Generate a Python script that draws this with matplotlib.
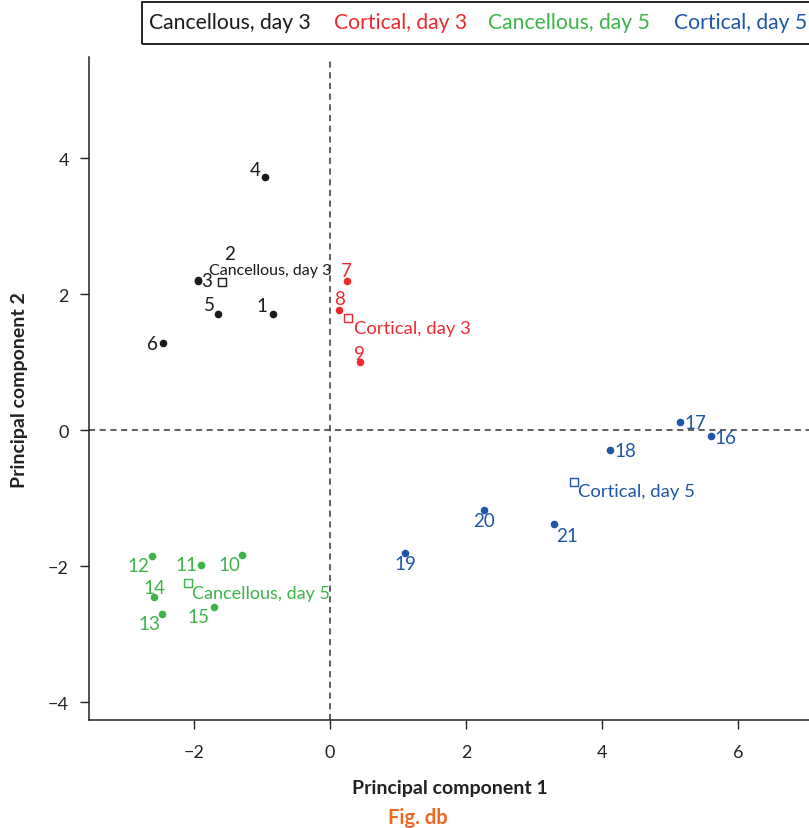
import matplotlib.pyplot as plt
from matplotlib.patches import Rectangle

plt.rcParams['font.family'] = ['Lato', 'DejaVu Sans']

# PCA scores per sample
groups = ["Cancellous, day 3", "Cortical, day 3", "Cancellous, day 5", "Cortical, day 5"]
colors = ["#1a1a1a", "#ee2a2e", "#3cb44a", "#1f56a8"]

ids_c3 = [1, 2, 3, 4, 5, 6]
pc1_c3 = [-0.84, -1.94, -1.94, -0.96, -1.65, -2.45]
pc2_c3 = [1.71, 2.21, 2.20, 3.72, 1.71, 1.28]

ids_k3 = [7, 8, 9]
pc1_k3 = [0.25, 0.13, 0.44]
pc2_k3 = [2.19, 1.77, 1.00]

ids_c5 = [10, 11, 12, 13, 14, 15]
pc1_c5 = [-1.29, -1.90, -2.61, -2.46, -2.58, -1.71]
pc2_c5 = [-1.83, -1.98, -1.85, -2.70, -2.45, -2.60]

ids_k5 = [16, 17, 18, 19, 20, 21]
pc1_k5 = [5.60, 5.15, 4.11, 1.10, 2.27, 3.29]
pc2_k5 = [-0.09, 0.12, -0.29, -1.80, -1.17, -1.38]

# group centroids (open squares)
cen_x = [-1.59, 0.27, -2.09, 3.58]
cen_y = [2.18, 1.65, -2.24, -0.76]

# label offsets in points (dx, dy) for each sample number
offs = {1: (-8, 6), 2: (23, 19), 3: (6, 0), 4: (-6.5, 6), 5: (-6, 7), 6: (-8, 0),
        7: (0, 8), 8: (0.5, 8.5), 9: (0, 6.5),
        10: (-9.5, -7), 11: (-10, 0), 12: (-10, -7), 13: (-9.5, -7), 14: (0, 6.5), 15: (-11, -7),
        16: (10, -1), 17: (11, 0), 18: (11, 0), 19: (0.5, -7.5), 20: (0, -8), 21: (9.5, -8)}
cen_offs = [(-9, 8.6), (4.3, -7.2), (3, -7.2), (3, -6.5)]
cen_size = [11.5, 13.3, 13.0, 13.3]

W, H = 809, 829
fig = plt.figure(figsize=(W / 100, H / 100), dpi=100)
ax = fig.add_axes([89 / W, 1 - 721 / H, 1 - 89 / W, (721 - 58) / H])

sets = [(ids_c3, pc1_c3, pc2_c3), (ids_k3, pc1_k3, pc2_k3),
        (ids_c5, pc1_c5, pc2_c5), (ids_k5, pc1_k5, pc2_k5)]

ax.axhline(0, color="#333333", lw=1.1, ls=(0, (4, 3)), zorder=1)
ax.axvline(0, color="#333333", lw=1.1, ls=(0, (4, 3)), zorder=1)

for g, (ids, xs, ys) in enumerate(sets):
    c = colors[g]
    ax.scatter(xs, ys, s=20, color=c, zorder=3)
    for i, x, y in zip(ids, xs, ys):
        dx, dy = offs[i]
        ax.annotate(str(i), (x, y), xytext=(dx, dy), textcoords="offset points",
                    ha="center", va="center", color=c, fontsize=13.5)
    ax.scatter([cen_x[g]], [cen_y[g]], s=32, marker="s", facecolor="white",
               edgecolor=c, linewidth=1.0, zorder=3)
    dx, dy = cen_offs[g]
    ax.annotate(groups[g], (cen_x[g], cen_y[g]), xytext=(dx, dy), textcoords="offset points",
                ha="left", va="center", color=c, fontsize=cen_size[g])

ax.set_xlim(-3.54, 7.04)
ax.set_ylim(-4.26, 5.49)
ax.set_xticks([-2, 0, 2, 4, 6])
ax.set_yticks([-4, -2, 0, 2, 4])
ax.set_xticklabels(["\u22122", "0", "2", "4", "6"])
ax.set_yticklabels(["\u22124", "\u22122", "0", "2", "4"])
ax.tick_params(direction="out", length=6.5, width=1, labelsize=13, colors="#222222")
ax.tick_params(axis="x", pad=11)
ax.tick_params(axis="y", pad=8)
ax.spines["top"].set_visible(False)
ax.spines["right"].set_visible(False)
for s in ["left", "bottom"]:
    ax.spines[s].set_linewidth(1.1)
    ax.spines[s].set_color("#222222")

# axis titles
fig.text(450 / W, 1 - 789 / H, "Principal component 1", fontsize=14, fontweight="bold",
         color="#222222", ha="center", va="center")
fig.text(20 / W, 1 - 390 / H, "Principal component 2", fontsize=14, fontweight="bold",
         color="#222222", ha="center", va="center", rotation=90)

# legend strip across the top
fig.patches.append(Rectangle((142 / W, 1 - 45 / H), (W + 5 - 142) / W, 42 / H,
                             transform=fig.transFigure, fill=False, edgecolor="black",
                             linewidth=1.2, clip_on=False))
leg_x = [149, 334, 488, 674]
for g in range(4):
    fig.text(leg_x[g] / W, 1 - 23 / H, groups[g], color=colors[g], fontsize=15.2,
             ha="left", va="center")

fig.text(418 / W, 1 - 818 / H, "Fig. db", color="#f26522", fontsize=14.5,
         fontweight="bold", ha="center", va="center")

fig.savefig("out.png", dpi=100)
